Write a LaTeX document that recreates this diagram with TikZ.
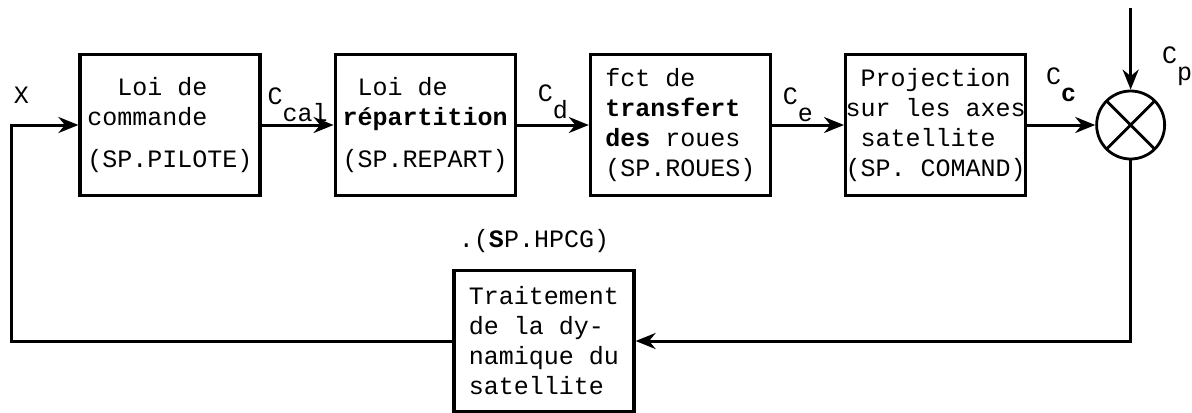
\documentclass[tikz,border=0pt]{standalone}
\usepackage{fontspec}
\setmainfont{Liberation Mono}
\usetikzlibrary{arrows.meta, positioning, calc}
\newcommand{\idx}[1]{\raisebox{-8.5pt}{#1}}

\begin{document}
\begin{tikzpicture}[
        node distance=36pt and 36pt,
        box/.style={rectangle, draw=black, line width=1.6pt, minimum width=90pt, minimum height=70.5pt, align=left, inner sep=2pt, font=\fontsize{12.5}{15}\selectfont},
        sum/.style={circle, draw=black, line width=1.4pt, minimum size=34pt, inner sep=0pt, path picture={\draw[line width=1.4pt] (path picture bounding box.north west) -- (path picture bounding box.south east) (path picture bounding box.north east) -- (path picture bounding box.south west);}},
        lbl/.style={inner sep=1pt, font=\fontsize{12.5}{15}\selectfont},
        arrow/.style={-{Stealth[length=10pt, width=8pt]}, line width=1.5pt}
    ]
    \useasboundingbox (0,0) rectangle (596pt,-206pt);

    % Nodes
    \node[box] (pilote) at (85pt,-62.5pt) {\phantom{xx}Loi de\\commande\\[6pt](SP.PILOTE)};
    \node[box, right=of pilote] (repart) {\phantom{x}Loi de\\\textbf{répartition}\\[6pt](SP.REPART)};
    \node[box, right=of repart] (roues) {fct de\\\textbf{transfert}\\\textbf{des} roues\\(SP.ROUES)};
    \node[box, right=of roues, inner xsep=0pt] (proj) {\phantom{x}Projection\\sur les axes\\\phantom{x}satellite\\(SP. COMAND)};
    \node[sum, right=34pt of proj] (sum) {};
    \node[box] (dyn) at (272pt,-170.5pt) {Traitement\\de la dy-\\namique du\\satellite};
    \node[lbl, above=7pt of dyn, xshift=-5pt] (hpcg) {.(\textbf{S}P.HPCG)};
    \coordinate[left=33.5pt of pilote.west] (corner);
    \coordinate[above=41pt of sum.north] (cpin);
    \node[lbl, above right=9.5pt and 0pt of corner] (xin) {X};

    % Arrows
    \draw[arrow] (pilote) -- node[lbl, above] {C\idx{cal}} (repart);
    \draw[arrow] (repart) -- node[lbl, above=1.5pt] {C\idx{d}} (roues);
    \draw[arrow] (roues) -- node[lbl, above, pos=0.36] {C\idx{e}} (proj);
    \draw[arrow] (proj) -- node[lbl, above=10pt] {C\idx{\textbf{c}}} (sum);
    \draw[arrow] (cpin) -- node[lbl, right=14pt, pos=0.72] {C\idx{p}} (sum);

    % Feedback loop
    \draw[arrow] (sum.south) |- (dyn.east);
    \draw[arrow] (dyn.west) -| (corner) -- (pilote.west);

\end{tikzpicture}
\end{document}
